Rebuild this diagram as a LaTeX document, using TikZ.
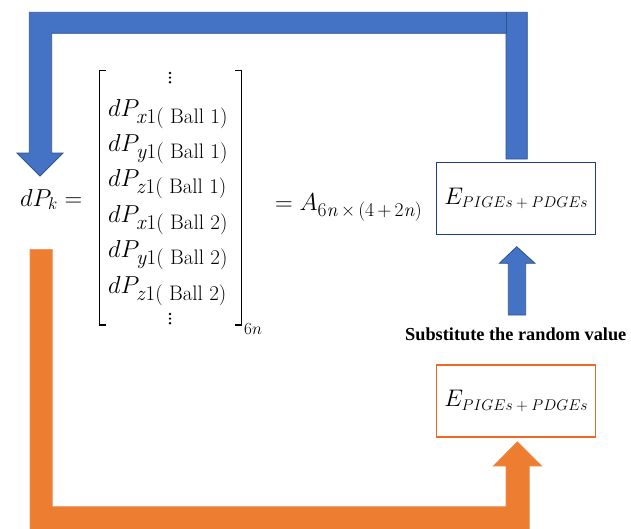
\RequirePackage{fix-cm}
\documentclass[tikz,border=0pt]{standalone}
\usepackage{fontspec}
\newfontfamily\labelfont{Liberation Serif}
\usepackage{amsmath}
\newcommand\mysub[2]{\mbox{\fontsize{#1}{#1}\selectfont$#2$}}
\newcommand\tsub[2]{\mbox{\fontsize{#1}{#1}\selectfont #2}}
\definecolor{bluefill}{HTML}{4472C4}
\definecolor{blueedge}{HTML}{2F528F}
\definecolor{boxblue}{HTML}{1F3C84}
\definecolor{orangefill}{HTML}{ED7D31}
\definecolor{boxorange}{HTML}{EE6A22}
\begin{document}
\begin{tikzpicture}[x=1pt,y=-1pt,
  eq/.style={inner sep=0pt,font=\fontsize{24.5}{28}\selectfont},
  sub/.style={inner sep=0pt,font=\fontsize{17}{19}\selectfont},
  bluearrow/.style={fill=bluefill,draw=blueedge,line width=0.8pt,line join=miter},
  orangearrow/.style={fill=orangefill,draw=orangefill!85!white,line width=0.6pt,line join=miter},
  bracket/.style={draw=black,line width=1.4pt},
  ebox/.style={draw,line width=1.5pt,minimum width=159pt,minimum height=72pt,inner sep=0pt,font=\fontsize{24}{28}\selectfont},
  dotmark/.style={fill=black},
  note/.style={inner sep=0pt,font=\labelfont\bfseries\fontsize{18.3}{22}\selectfont}]
\useasboundingbox (0,0) rectangle (631,528);

% boxes
\node[ebox,draw=boxblue] (etop) at (516.2,198.3) {$E_{\mysub{15.5}{PIGEs+PDGEs}}$};
\node[ebox,draw=boxorange] (ebot) at (516.2,400.8) {$E_{\mysub{15.5}{PIGEs+PDGEs}}$};

% equation left
\node[eq,anchor=base west] (dpk) at (20,206) {$dP_{\mysub{17}{k}} =$};

% matrix rows
\node[eq,anchor=base west] (r1) at (108,116) {$dP_{\tsub{21}{\textit{x}1( Ball 1)}}$};
\node[eq,anchor=base west] (r2) at (108,151) {$dP_{\tsub{21}{\textit{y}1( Ball 1)}}$};
\node[eq,anchor=base west] (r3) at (108,186) {$dP_{\tsub{21}{\textit{z}1( Ball 1)}}$};
\node[eq,anchor=base west] (r4) at (108,222) {$dP_{\tsub{21}{\textit{x}1( Ball 2)}}$};
\node[eq,anchor=base west] (r5) at (108,257) {$dP_{\tsub{21}{\textit{y}1( Ball 2)}}$};
\node[eq,anchor=base west] (r6) at (108,293) {$dP_{\tsub{21}{\textit{z}1( Ball 2)}}$};

% vertical dots
\foreach \yy in {73,77.6,82.2,314,318.6,323.2}
  \fill[dotmark] (170,\yy) circle (1.35pt);

% brackets
\draw[bracket] (106,70.7) -- (99.5,70.7) -- (99.5,325) -- (106,325);
\draw[bracket] (235.2,70.7) -- (241.7,70.7) -- (241.7,325) -- (235.2,325);
\node[sub,anchor=base west] (dim) at (244,334) {$6n$};

% right side of equation
\node[eq,anchor=base west] (amat) at (275,210) {$= A_{\tsub{19.5}{6\textit{n}\,×\,(4\,+\,2\textit{n})}}$};

% note
\node[note,anchor=base west] (note) at (405,340) {Substitute the random value};

% blue feedback arrow from top box to dP_k
\path[bluearrow] (527.3,159) -- (527.3,12.3) -- (29.3,12.3) -- (29.3,153) -- (17,153) -- (40,176) -- (63,153) -- (51.7,153) -- (51.7,33.3) -- (506,33.3) -- (506,159) -- cycle;
\draw[blueedge,line width=0.6pt] (506,12.3) -- (506,33.3);

% small blue arrow up to top box
\path[bluearrow] (508.3,315) -- (508.3,263.3) -- (499.3,263.3) -- (516.7,246.7) -- (535,263.3) -- (525.7,263.3) -- (525.7,315) -- cycle;

% orange arrow from left to bottom box
\path[orangearrow] (30,249.3) -- (52.3,249.3) -- (52.3,506.7) -- (506,506.7) -- (506,466) -- (493.3,466) -- (517.3,441.7) -- (541.7,466) -- (529.3,466) -- (529.3,530) -- (30,530) -- cycle;
\end{tikzpicture}
\end{document}
